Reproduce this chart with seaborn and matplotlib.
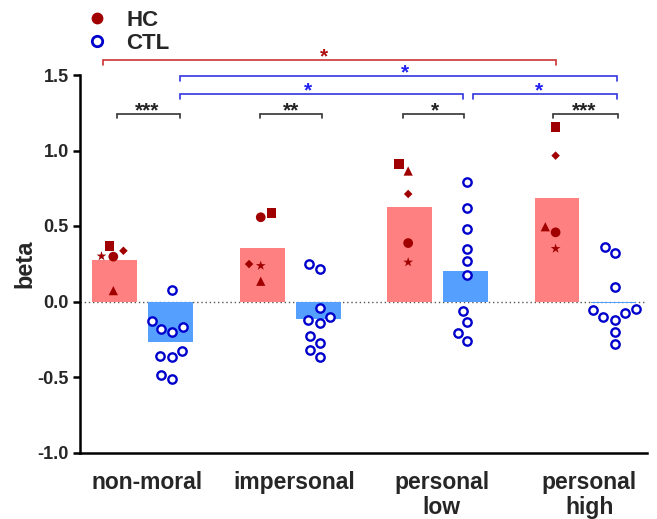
import numpy as np
import pandas as pd
import matplotlib
matplotlib.use("Agg")
import matplotlib.pyplot as plt
import seaborn as sns
from matplotlib.markers import MarkerStyle
from matplotlib.lines import Line2D
from matplotlib.transforms import ScaledTranslation, Affine2D

# ---------------- data ----------------
conditions = ["non-moral", "impersonal", "personal\nlow", "personal\nhigh"]
groups = ["HC", "CTL"]
hc_subjects = ["S1", "S2", "S3", "S4", "S5"]          # square, circle, star, diamond, triangle
hc_nonmoral = [0.368, 0.297, 0.300, 0.336, 0.072]
hc_impersonal = [0.588, 0.558, 0.237, 0.248, 0.134]
hc_personal_low = [0.909, 0.387, 0.260, 0.712, 0.864]
hc_personal_high = [1.158, 0.458, 0.350, 0.966, 0.495]

ctl_nonmoral = [0.076, -0.167, -0.204, -0.182, -0.131, -0.361, -0.370, -0.326, -0.511, -0.489]
ctl_impersonal = [0.217, 0.248, -0.040, -0.100, -0.145, -0.122, -0.230, -0.273, -0.323, -0.368]
ctl_personal_low = [0.789, 0.617, 0.478, 0.348, 0.270, 0.178, -0.063, -0.134, -0.211, -0.262]
ctl_personal_high = [0.363, 0.319, 0.098, -0.052, -0.056, -0.105, -0.078, -0.122, -0.200, -0.281]

y_ticks = [-1.0, -0.5, 0.0, 0.5, 1.0, 1.5]
y_tick_labels = ["-1.0", "-0.5", "0.0", "0.5", "1.0", "1.5"]

# significance annotations: (x_start, x_end, level, text, text_x, colour key)
sig_brackets = [
    (-0.272, 2.800, 1.599, "*", 1.228, "red"),
    (0.254, 3.217, 1.493, "*", 1.778, "blue"),
    (0.254, 2.173, 1.374, "*", 1.120, "blue"),
    (2.237, 3.217, 1.374, "*", 2.686, "blue"),
    (-0.177, 0.252, 1.245, "***", 0.026, "black"),
    (0.795, 1.217, 1.245, "**", 1.005, "black"),
    (1.762, 2.178, 1.245, "*", 1.979, "black"),
    (2.779, 3.224, 1.245, "***", 2.993, "black"),
]

# ---------------- build table ----------------
hc_lists = [hc_nonmoral, hc_impersonal, hc_personal_low, hc_personal_high]
ctl_lists = [ctl_nonmoral, ctl_impersonal, ctl_personal_low, ctl_personal_high]
rows = []
for cond, hv, cv in zip(conditions, hc_lists, ctl_lists):
    for s, v in zip(hc_subjects, hv):
        rows.append(dict(condition=cond, group="HC", subject=s, beta=v))
    for i, v in enumerate(cv):
        rows.append(dict(condition=cond, group="CTL", subject=f"C{i}", beta=v))
df = pd.DataFrame(rows)

# ---------------- style ----------------
sns.set_theme(style="ticks")
plt.rcParams["font.family"] = ["Liberation Sans", "DejaVu Sans"]
plt.rcParams["font.weight"] = "bold"
plt.rcParams["axes.unicode_minus"] = False

bar_colors = {"HC": "#FF8080", "CTL": "#55A0FF"}
pt_colors = {"HC": "#A00000", "CTL": "#0000CC"}
line_colors = {"red": "#CC3333", "blue": "#3535E0", "black": "#333333"}
text_colors = {"red": "#B01010", "blue": "#2020F0", "black": "#222222"}

W, H = 657, 519
fig = plt.figure(figsize=(W / 100, H / 100), dpi=100)
ax = fig.add_axes([80 / W, 1 - 452.5 / H, (647 - 80) / W, (452.5 - 75) / H])

ax.axhline(0, color="#555555", lw=1.0, ls=(0, (1, 2)), zorder=0)

sns.barplot(data=df, x="condition", y="beta", hue="group", order=conditions,
            hue_order=groups, palette=bar_colors, errorbar=None, width=0.76,
            gap=0.2, saturation=1, linewidth=0, legend=False, ax=ax, zorder=1)

n0 = len(ax.collections)
sns.swarmplot(data=df, x="condition", y="beta", hue="group", order=conditions,
              hue_order=groups, palette=pt_colors, dodge=True, size=7,
              linewidth=0, legend=False, ax=ax, zorder=3)

def mpath(m, scale):
    ms = MarkerStyle(m)
    return ms.get_path().transformed(ms.get_transform() + Affine2D().scale(scale))

# swarm spacing uses a slightly larger footprint than the drawn glyph
hc_size, hc_k = 66, np.sqrt(49 / 66)
ctl_size, ctl_k = 44, np.sqrt(36 / 44)
hc_paths = [mpath("s", 1.0 * hc_k), mpath("o", 1.0 * hc_k), mpath("*", 1.05 * hc_k),
            mpath("D", 0.62 * hc_k), mpath("^", 0.95 * hc_k)]

for coll in ax.collections[n0:]:
    n = len(coll.get_offsets())
    if n == 0:
        continue
    if n == len(hc_subjects):
        coll.set_paths(hc_paths)
        coll.set_facecolor(pt_colors["HC"])
        coll.set_edgecolor("none")
        coll.set_sizes([hc_size])
    else:
        coll.set_paths([mpath("o", ctl_k)])
        coll.set_facecolor("white")
        coll.set_edgecolor(pt_colors["CTL"])
        coll.set_linewidth(1.7)
        coll.set_sizes([ctl_size])

# ---------------- brackets ----------------
drop = 0.033
for x0, x1, yl, txt, tx, ck in sig_brackets:
    ax.plot([x0, x0, x1, x1], [yl - drop, yl, yl, yl - drop], color=line_colors[ck],
            lw=1.2, clip_on=False, solid_joinstyle="miter")
    ax.text(tx, yl - 0.018, txt, ha="center", va="baseline", fontsize=15,
            color=text_colors[ck], clip_on=False, fontweight="bold")

# ---------------- axes ----------------
ax.set_xlim(-0.426, 3.42)
ax.set_ylim(-1.0, 1.5)
ax.set_yticks(y_ticks)
ax.set_yticklabels(y_tick_labels, fontsize=13, fontweight="bold")
ax.set_xticks(range(len(conditions)))
ax.set_xticklabels(conditions, fontsize=16.5, fontweight="bold", linespacing=1.12)
ax.tick_params(axis="x", length=0, pad=13)
ax.tick_params(axis="y", length=5, width=1.8, pad=3, color="black")
for lab in ax.get_xticklabels():
    lab.set_transform(lab.get_transform() + ScaledTranslation(4 / 100, 0, fig.dpi_scale_trans))
ax.set_xlabel("")
ax.set_ylabel("beta", fontsize=17, fontweight="bold", labelpad=1)
for sp in ["top", "right"]:
    ax.spines[sp].set_visible(False)
for sp in ["left", "bottom"]:
    ax.spines[sp].set_linewidth(1.8)
    ax.spines[sp].set_color("black")

# ---------------- legend ----------------
handles = [Line2D([], [], ls="none", marker="o", markersize=8.5,
                  markerfacecolor=pt_colors["HC"], markeredgecolor="none"),
           Line2D([], [], ls="none", marker="o", markersize=7.5,
                  markerfacecolor="white", markeredgecolor=pt_colors["CTL"],
                  markeredgewidth=2.0)]
ax.legend(handles, groups, loc="upper left", bbox_to_anchor=(86 / W, 1 - 10 / H),
          bbox_transform=fig.transFigure, frameon=False, prop=dict(size=16, weight="bold"),
          handlelength=1.0, handletextpad=0.8, labelspacing=0.1, borderpad=0,
          borderaxespad=0)

fig.savefig("out.png", dpi=100)
